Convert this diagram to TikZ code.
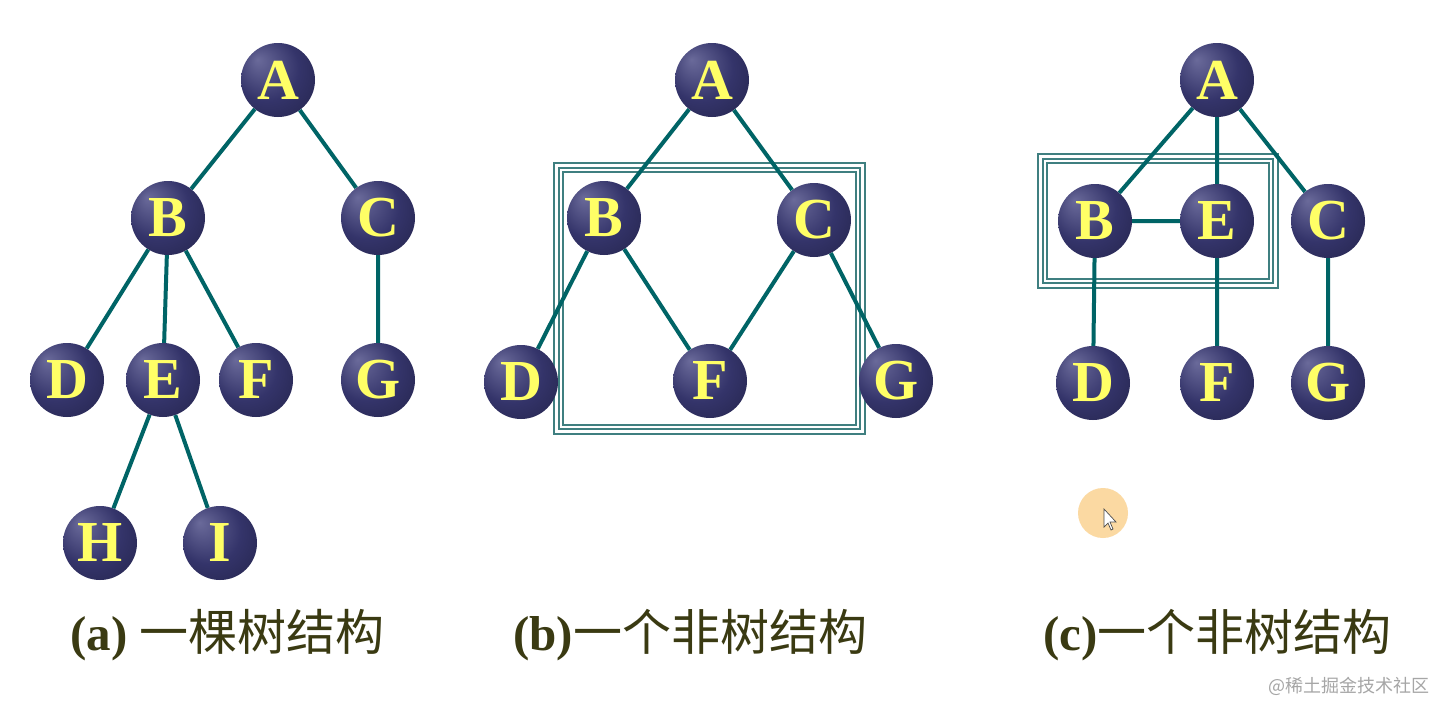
\documentclass[tikz,border=0pt]{standalone}
\usepackage{fontspec}
\setmainfont{Liberation Serif}
\newfontfamily\cjk{Noto Sans CJK SC}
\definecolor{nbA}{HTML}{6A6A9A}
\definecolor{nbB}{HTML}{34346A}
\definecolor{nbC}{HTML}{1C1C3C}
\definecolor{edgec}{HTML}{006466}
\definecolor{boxc}{HTML}{3F7F80}
\definecolor{lblc}{HTML}{FFFF66}
\definecolor{capc}{HTML}{3A3A12}
\definecolor{cursorc}{HTML}{FBD9A2}
\pgfdeclareradialshading{navyball}{\pgfpoint{-14bp}{14bp}}{color(0bp)=(nbA); color(22bp)=(nbB); color(50bp)=(nbC)}
\tikzset{
  tnode/.style={circle, minimum size=74pt, inner sep=0pt, shading=navyball,
    text=lblc, font=\fontsize{58}{58}\selectfont\bfseries},
  tedge/.style={draw=edgec, line width=4pt},
  boxouter/.style={draw=boxc, line width=2.6pt},
  boxinner/.style={draw=boxc, line width=1.3pt},
  caption/.style={text=capc, font=\fontsize{49}{49}\selectfont\bfseries, inner sep=0pt, anchor=west},
}
\begin{document}
\begin{tikzpicture}[x=1pt,y=-1pt]
\useasboundingbox[fill=white] (0,0) rectangle (1436,702);
% boxes
\coordinate (b1) at (554,163); \coordinate (b2) at (865,434);
\draw[boxouter] (b1) rectangle (b2);
\draw[boxinner] ([shift={(5,5)}]b1) rectangle ([shift={(-5,-5)}]b2);
\draw[boxinner] ([shift={(9,9)}]b1) rectangle ([shift={(-9,-9)}]b2);
\coordinate (c1) at (1038,154); \coordinate (c2) at (1278,288);
\draw[boxouter] (c1) rectangle (c2);
\draw[boxinner] ([shift={(5,5)}]c1) rectangle ([shift={(-5,-5)}]c2);
\draw[boxinner] ([shift={(9,9)}]c1) rectangle ([shift={(-9,-9)}]c2);
% tree a
\node[tnode] (aA) at (278,80) {A};
\node[tnode] (aB) at (168,218) {B};
\node[tnode] (aC) at (378,218) {C};
\node[tnode] (aD) at (67,380) {D};
\node[tnode] (aE) at (163,380) {E};
\node[tnode] (aF) at (256,380) {F};
\node[tnode] (aG) at (378,380) {G};
\node[tnode] (aH) at (100,543) {H};
\node[tnode] (aI) at (220,543) {I};
\path[tedge] (aA)--(aB) (aA)--(aC) (aB)--(aD) (aB)--(aE) (aB)--(aF) (aC)--(aG) (aE)--(aH) (aE)--(aI);
% tree b
\node[tnode] (bA) at (712,80) {A};
\node[tnode] (bB) at (604,218) {B};
\node[tnode] (bC) at (814,220) {C};
\node[tnode] (bD) at (521,382) {D};
\node[tnode] (bF) at (710,381) {F};
\node[tnode] (bG) at (896,381) {G};
\path[tedge] (bA)--(bB) (bA)--(bC) (bB)--(bD) (bB)--(bF) (bC)--(bF) (bC)--(bG);
% tree c
\node[tnode] (cA) at (1217,80) {A};
\node[tnode] (cB) at (1095,221) {B};
\node[tnode] (cE) at (1217,221) {E};
\node[tnode] (cC) at (1328,221) {C};
\node[tnode] (cD) at (1093,383) {D};
\node[tnode] (cF) at (1217,383) {F};
\node[tnode] (cG) at (1328,383) {G};
\path[tedge] (cA)--(cB) (cA)--(cE) (cA)--(cC) (cB)--(cE) (cB)--(cD) (cE)--(cF) (cC)--(cG);
% captions
\node[caption] (capa) at (70,635) {(a) {\cjk\mdseries 一棵树结构}};
\node[caption] (capb) at (513,635) {(b){\cjk\mdseries 一个非树结构}};
\node[caption] (capc) at (1043,635) {(c){\cjk\mdseries 一个非树结构}};
% cursor
\fill[cursorc] (1103,513) circle (25);
\draw[fill=white, draw=black!70, line width=0.7pt] (1104,509) -- (1104,527) -- (1108,523) -- (1111,530) -- (1113,529) -- (1110,522) -- (1116,522) -- cycle;
% watermark
\node[anchor=east, text=black!35, font=\cjk\fontsize{18}{18}\selectfont, inner sep=0pt] (wm) at (1430,686) {@稀土掘金技术社区};
\end{tikzpicture}
\end{document}
